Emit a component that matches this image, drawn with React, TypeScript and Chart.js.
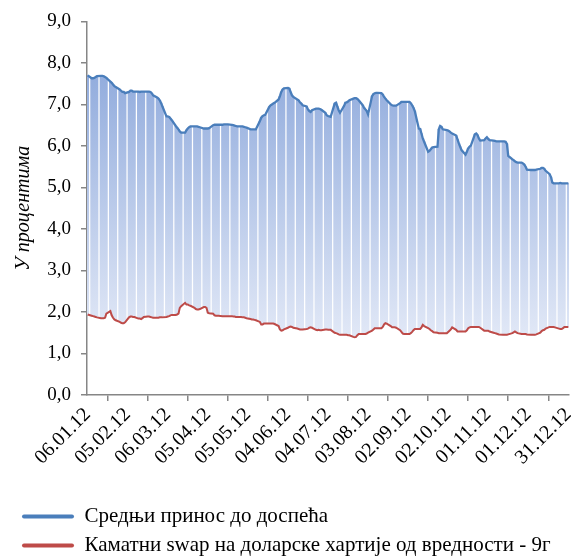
import React, { useEffect, useRef } from 'react';
import { Chart, registerables } from 'chart.js';

Chart.register(...registerables);

// ---- data -------------------------------------------------------------
// calendar: every day from 06.01.2012 to 31.12.2012; values only on business days
const START_UTC = Date.UTC(2012, 0, 6);
const DAY_COUNT = 361;
const TICK_EVERY = 30;

const SERIES_NAMES = [
  'Средњи принос до доспећа',
  'Каматни swap на доларске хартије од вредности - 9г',
];

// Average yield to maturity (business days, in order)
const BLUE = [
  7.70,
  7.63, 7.63, 7.64, 7.66, 7.68,
  7.69, 7.69, 7.68, 7.66, 7.64,
  7.55, 7.52, 7.48, 7.44, 7.42,
  7.36, 7.33, 7.30, 7.30, 7.27,
  7.30, 7.33, 7.33, 7.31, 7.31,
  7.31, 7.30, 7.31, 7.31, 7.31,
  7.31, 7.31, 7.30, 7.27, 7.22,
  7.17, 7.14, 7.10, 7.03, 6.95,
  6.71, 6.71, 6.70, 6.66, 6.62,
  6.48, 6.44, 6.40, 6.35, 6.32,
  6.32, 6.38, 6.42, 6.45, 6.47,
  6.47, 6.47, 6.47, 6.46, 6.45,
  6.42, 6.42, 6.42, 6.42, 6.43,
  6.50, 6.51, 6.51, 6.51, 6.51,
  6.51, 6.52, 6.52, 6.52, 6.52,
  6.51, 6.50, 6.49, 6.48, 6.47,
  6.47, 6.47, 6.46, 6.45, 6.44,
  6.40, 6.40, 6.40, 6.40, 6.40,
  6.60, 6.68, 6.72, 6.74, 6.75,
  6.94, 6.98, 7.00, 7.02, 7.04,
  7.12, 7.20, 7.30, 7.36, 7.39,
  7.40, 7.38, 7.30, 7.22, 7.18,
  7.12, 7.10, 7.05, 7.02, 6.98,
  6.95, 6.88, 6.84, 6.82, 6.86,
  6.90, 6.90, 6.90, 6.89, 6.87,
  6.80, 6.74, 6.72, 6.71, 6.70,
  7.02, 7.04, 6.95, 6.86, 6.80,
  6.96, 7.04, 7.05, 7.07, 7.10,
  7.14, 7.15, 7.15, 7.13, 7.10,
  6.98, 6.92, 6.88, 6.84, 6.76,
  7.20, 7.25, 7.27, 7.28, 7.28,
  7.27, 7.24, 7.18, 7.14, 7.10,
  7.00, 6.98, 6.97, 6.97, 6.97,
  7.03, 7.06, 7.06, 7.06, 7.06,
  7.06, 7.03, 6.98, 6.92, 6.84,
  6.42, 6.41, 6.30, 6.18, 6.10,
  5.86, 5.88, 5.92, 5.96, 5.97,
  5.98, 6.40, 6.48, 6.46, 6.40,
  6.38, 6.37, 6.35, 6.32, 6.30,
  6.25, 6.16, 6.06, 5.98, 5.90,
  5.79, 5.86, 5.94, 5.98, 6.01,
  6.28, 6.30, 6.26, 6.18, 6.13,
  6.14, 6.18, 6.21, 6.17, 6.14,
  6.13, 6.12, 6.11, 6.11, 6.11,
  6.11, 6.11, 6.10, 6.05, 5.76,
  5.68, 5.66, 5.63, 5.61, 5.60,
  5.60, 5.58, 5.55, 5.50, 5.43,
  5.42, 5.42, 5.42, 5.42, 5.43,
  5.45, 5.47, 5.47, 5.45, 5.40,
  5.32, 5.25, 5.12, 5.10, 5.10,
  5.10, 5.11, 5.10, 5.10, 5.10,
  5.10,
];

// USD interest rate swap, 9y (business days, in order)
const RED = [
  1.94,
  1.91, 1.90, 1.89, 1.88, 1.87,
  1.85, 1.85, 1.85, 1.86, 1.96,
  2.02, 1.92, 1.86, 1.82, 1.80,
  1.76, 1.74, 1.73, 1.73, 1.75,
  1.87, 1.89, 1.89, 1.88, 1.88,
  1.84, 1.84, 1.83, 1.85, 1.88,
  1.89, 1.89, 1.88, 1.87, 1.86,
  1.86, 1.86, 1.87, 1.87, 1.87,
  1.88, 1.89, 1.90, 1.92, 1.93,
  1.93, 1.94, 1.96, 2.10, 2.14,
  2.22, 2.18, 2.18, 2.16, 2.15,
  2.10, 2.07, 2.06, 2.06, 2.07,
  2.12, 2.12, 2.10, 1.98, 1.97,
  1.96, 1.92, 1.91, 1.91, 1.91,
  1.90, 1.90, 1.90, 1.90, 1.90,
  1.90, 1.89, 1.89, 1.88, 1.88,
  1.88, 1.87, 1.87, 1.86, 1.85,
  1.83, 1.82, 1.82, 1.81, 1.80,
  1.76, 1.70, 1.70, 1.72, 1.72,
  1.72, 1.72, 1.72, 1.72, 1.71,
  1.66, 1.58, 1.55, 1.56, 1.58,
  1.62, 1.64, 1.65, 1.64, 1.62,
  1.60, 1.59, 1.58, 1.58, 1.58,
  1.59, 1.60, 1.62, 1.63, 1.62,
  1.57, 1.56, 1.57, 1.56, 1.56,
  1.58, 1.58, 1.57, 1.57, 1.57,
  1.50, 1.49, 1.48, 1.46, 1.45,
  1.45, 1.45, 1.45, 1.44, 1.44,
  1.40, 1.39, 1.40, 1.44, 1.47,
  1.47, 1.47, 1.47, 1.48, 1.50,
  1.55, 1.58, 1.61, 1.61, 1.61,
  1.61, 1.64, 1.70, 1.73, 1.72,
  1.66, 1.63, 1.63, 1.63, 1.62,
  1.56, 1.52, 1.48, 1.47, 1.47,
  1.47, 1.49, 1.52, 1.56, 1.59,
  1.59, 1.59, 1.63, 1.69, 1.66,
  1.61, 1.59, 1.56, 1.54, 1.51,
  1.50, 1.49, 1.49, 1.49, 1.49,
  1.49, 1.52, 1.55, 1.58, 1.63,
  1.57, 1.53, 1.53, 1.53, 1.53,
  1.53, 1.56, 1.61, 1.63, 1.64,
  1.64, 1.64, 1.64, 1.64, 1.62,
  1.55, 1.55, 1.55, 1.55, 1.53,
  1.50, 1.49, 1.48, 1.47, 1.46,
  1.45, 1.45, 1.45, 1.45, 1.46,
  1.49, 1.51, 1.53, 1.51, 1.49,
  1.47, 1.47, 1.47, 1.47, 1.46,
  1.45, 1.45, 1.45, 1.45, 1.46,
  1.50, 1.54, 1.56, 1.57, 1.60,
  1.64, 1.64, 1.64, 1.64, 1.63,
  1.60, 1.59, 1.59, 1.61, 1.64,
  1.64,
];

const Y_MIN = 0;
const Y_MAX = 9;
const Y_STEP = 1;
const Y_TITLE = 'У процентима';

// ---- derived tables --------------------------------------------------
const pad2 = (n: number) => String(n).padStart(2, '0');
const dayLabels: string[] = [];
const isBusiness: boolean[] = [];
for (let d = 0; d < DAY_COUNT; d++) {
  const dt = new Date(START_UTC + d * 86400000);
  dayLabels.push(`${pad2(dt.getUTCDate())}.${pad2(dt.getUTCMonth() + 1)}.${String(dt.getUTCFullYear()).slice(2)}`);
  const wd = dt.getUTCDay();
  isBusiness.push(wd >= 1 && wd <= 5);
}
const blueDaily: (number | null)[] = [];
const redDaily: (number | null)[] = [];
const spanDaily: ([number, number] | null)[] = [];
{
  let k = 0;
  for (let d = 0; d < DAY_COUNT; d++) {
    if (isBusiness[d] && k < BLUE.length) {
      blueDaily.push(BLUE[k]);
      redDaily.push(RED[k]);
      spanDaily.push([RED[k], BLUE[k]]);
      k++;
    } else {
      blueDaily.push(null);
      redDaily.push(null);
      spanDaily.push(null);
    }
  }
}

const BLUE_COLOR = '#4A7EBB';
const RED_COLOR = '#BE4B48';
const AXIS_COLOR = '#868686';
const FONT = "'Liberation Serif', 'Times New Roman', serif";

export default function App() {
  const ref = useRef<HTMLCanvasElement | null>(null);

  useEffect(() => {
    if (!ref.current) return;
    let gradCache: any = null;
    let gradKey = '';

    const legendTrim = {
      id: 'legendTrim',
      beforeInit(chart: any) {
        const legend = chart.legend;
        if (legend) {
          const orig = legend.fit;
          legend.fit = function () {
            orig.call(this);
            if (this.isHorizontal && this.isHorizontal()) this.height -= 10;
          };
        }
      },
    };

    const chart = new Chart(ref.current, {
      type: 'bar',
      data: {
        labels: dayLabels,
        datasets: [
          {
            type: 'line',
            label: SERIES_NAMES[0],
            data: blueDaily,
            borderColor: BLUE_COLOR,
            backgroundColor: BLUE_COLOR,
            borderWidth: 2.3,
            pointRadius: 0,
            spanGaps: true,
            tension: 0,
            fill: false,
            order: 0,
          } as any,
          {
            type: 'line',
            label: SERIES_NAMES[1],
            data: redDaily,
            borderColor: RED_COLOR,
            backgroundColor: RED_COLOR,
            borderWidth: 2,
            pointRadius: 0,
            spanGaps: true,
            tension: 0,
            fill: false,
            order: 1,
          } as any,
          {
            type: 'bar',
            label: 'span',
            data: spanDaily as any,
            barThickness: 2.1,
            borderWidth: 0,
            order: 2,
            backgroundColor: (ctx: any) => {
              const c = ctx.chart;
              if (!c.chartArea) return 'rgb(180,198,234)';
              const ys = c.scales.y;
              const y0 = ys.getPixelForValue(8);
              const y1 = ys.getPixelForValue(1.5);
              const key = `${y0}|${y1}`;
              if (!gradCache || gradKey !== key) {
                const g = c.ctx.createLinearGradient(0, y0, 0, y1);
                g.addColorStop(0, 'rgb(143,170,220)');
                g.addColorStop(1, 'rgb(224,231,246)');
                gradCache = g;
                gradKey = key;
              }
              return gradCache;
            },
          } as any,
        ],
      },
      options: {
        responsive: false,
        animation: false,
        events: [],
        layout: { padding: { left: 14, right: 2, top: 17, bottom: 0 } },
        scales: {
          x: {
            type: 'category',
            offset: true,
            grid: {
              display: true,
              drawOnChartArea: false,
              drawTicks: true,
              tickLength: 6,
              color: AXIS_COLOR,
              lineWidth: 1.5,
            },
            border: { display: true, color: AXIS_COLOR, width: 1.5 },
            ticks: {
              autoSkip: false,
              minRotation: 45,
              maxRotation: 45,
              padding: 2,
              color: '#000',
              font: { family: FONT, size: 20 },
              callback: (_v: any, i: number) => (i % TICK_EVERY === 0 ? dayLabels[i] : null),
            },
            afterFit: (s: any) => {
              s.height = 103;
              s.paddingLeft = 0;
              s.paddingRight = 0;
            },
          },
          y: {
            min: Y_MIN,
            max: Y_MAX,
            grid: {
              display: true,
              drawOnChartArea: false,
              drawTicks: true,
              tickLength: 6,
              color: AXIS_COLOR,
              lineWidth: 1.5,
            },
            border: { display: true, color: AXIS_COLOR, width: 1.5 },
            ticks: {
              stepSize: Y_STEP,
              padding: 10,
              color: '#000',
              font: { family: FONT, size: 19 },
              callback: (v: any) => Number(v).toFixed(1).replace('.', ','),
            },
            title: {
              display: true,
              text: Y_TITLE,
              color: '#000',
              padding: 0,
              font: { family: FONT, size: 20, style: 'italic', lineHeight: 1 },
            },
            afterFit: (s: any) => {
              s.width = 73;
            },
          },
        },
        plugins: {
          tooltip: { enabled: false },
          legend: {
            position: 'bottom',
            align: 'start',
            labels: {
              boxWidth: 52,
              boxHeight: 4,
              padding: 8,
              color: '#000',
              font: { family: FONT, size: 21 },
              useBorderRadius: true,
              borderRadius: 2,
              filter: (item: any) => item.datasetIndex !== 2,
              generateLabels: (c: any) => {
                const items = Chart.defaults.plugins.legend.labels.generateLabels(c);
                return items.map((it: any) => ({ ...it, lineWidth: 0 }));
              },
            },
          },
        },
      } as any,
      plugins: [legendTrim],
    });

    return () => chart.destroy();
  }, []);

  return (
    <div style={{ position: 'absolute', left: 0, top: 0, width: 571, height: 556, background: '#fff' }}>
      <canvas ref={ref} width={571} height={556} style={{ width: 571, height: 556, display: 'block' }} />
    </div>
  );
}
